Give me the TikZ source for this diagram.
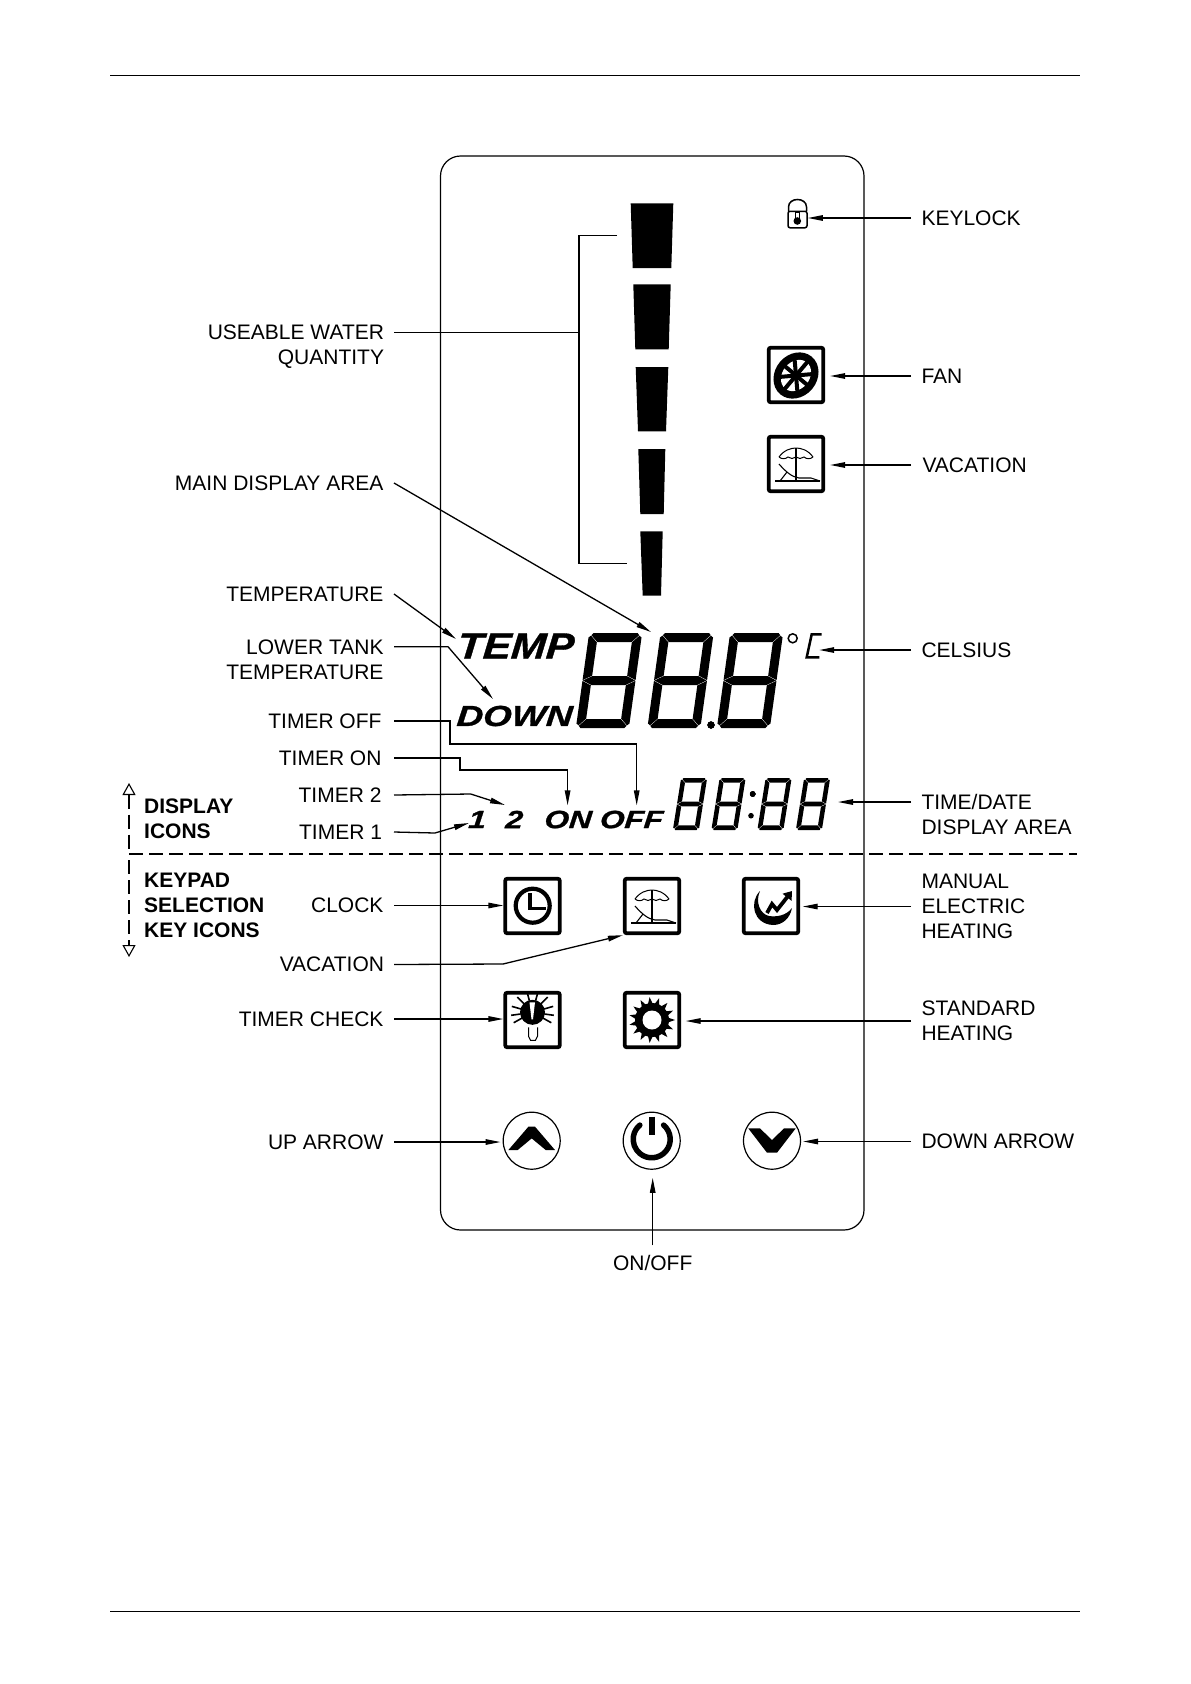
\documentclass[tikz,border=0pt]{standalone}
\usepackage{fontspec}
\setmainfont{Liberation Sans}
\newfontface\lcdfont[FakeStretch=1.15,FakeSlant=0.08,FakeBold=1]{Liberation Sans Bold Italic}
\newfontface\lcdwide[FakeStretch=1.26,FakeSlant=0.08,FakeBold=1]{Liberation Sans Bold Italic}
\usetikzlibrary{arrows.meta}

% seven-segment digit: centre x, centre y, width, height, bar, slant
\newcommand{\lcddigit}[6]{%
  \begin{scope}[shift={(#1,#2)},xslant=#6]
    \pgfmathsetmacro{\da}{#3/2}
    \pgfmathsetmacro{\db}{#4/2}
    \pgfmathsetmacro{\dt}{#5}
    \pgfmathsetmacro{\dc}{#5/2}
    \def\dg{0.4}
    \foreach \sx in {-1,1}{\foreach \sy in {-1,1}{
      \fill ({\sx*\da},{\sy*(\db-\dc)}) -- ({\sx*(\da-\dc/2)},{\sy*(\db-\dc/2-\dg)})
        -- ({\sx*(\da-\dt)},{\sy*(\db-\dt-\dg)})
        -- ({\sx*(\da-\dt)},{\sy*(\dt/2+\dg)}) -- ({\sx*\da},{\sy*\dg}) -- cycle;
    }}
    \foreach \sy in {-1,1}{
      \fill ({-\da+\dc},{\sy*\db}) -- ({\da-\dc},{\sy*\db}) -- ({\da-\dc/2-\dg},{\sy*(\db-\dc/2)})
        -- ({\da-\dt-\dg},{\sy*(\db-\dt)}) -- ({-\da+\dt+\dg},{\sy*(\db-\dt)})
        -- ({-\da+\dc/2+\dg},{\sy*(\db-\dc/2)}) -- cycle;
    }
    \fill ({-\da+\dg},0) -- ({-\da+\dt+\dg},{\dt/2}) -- ({\da-\dt-\dg},{\dt/2}) -- ({\da-\dg},0)
      -- ({\da-\dt-\dg},{-\dt/2}) -- ({-\da+\dt+\dg},{-\dt/2}) -- cycle;
  \end{scope}}

\begin{document}
\begin{tikzpicture}[x=1pt,y=-1pt,
  lbl/.style={font=\fontsize{21}{25}\selectfont,inner sep=0pt,outer xsep=10.5pt,outer ysep=0pt,align=right,anchor=east},
  rlbl/.style={lbl,align=left,anchor=west},
  hdr/.style={font=\bfseries\fontsize{21}{25}\selectfont,inner sep=0pt,align=left,anchor=west},
  lcdtxt/.style={font=\lcdfont\fontsize{#1}{#1}\selectfont,inner sep=0pt},
  lcdtxw/.style={font=\lcdwide\fontsize{#1}{#1}\selectfont,inner sep=0pt},
  keybox/.style={rectangle,draw,line width=3.8pt,rounded corners=2pt,minimum size=54.5pt,inner sep=0pt},
  keyrnd/.style={circle,draw,line width=1.2pt,minimum size=57pt,inner sep=0pt},
  fl/.style={-{Triangle[length=15pt,width=5.5pt]},line width=1.3pt},
  ln/.style={line width=1.3pt},
  sect/.style={-{Triangle[open,length=12pt,width=13pt]},line width=1.1pt,dash pattern=on 14pt off 6pt},
  vacicon/.pic={
    \draw[line width=1pt] (-17,-7) .. controls (-12,-14) and (-5,-16) .. (0,-16) .. controls (5,-16) and (12,-14) .. (17,-7);
    \draw[line width=1pt] (-17,-7) to[bend right=40] (-8,-7) to[bend right=40] (0,-7) to[bend right=40] (8,-7) to[bend right=40] (17,-7);
    \draw[line width=1.1pt] (0,-16) -- (0,17);
    \draw[line width=1.1pt] (-21,17) -- (24,17);
    \draw[line width=1.1pt] (-17,0) .. controls (-10,8) and (-4,13) .. (3,14) -- (15,14) -- (24,17);
    \draw[line width=1.1pt] (-9,8) -- (-16,17);
  }
]
\useasboundingbox (0,0) rectangle (1191,1684);
% page rules
\coordinate (rula) at (110,75);
\coordinate (rulb) at (1080,75);
\coordinate (rulc) at (110,1611);
\coordinate (ruld) at (1080,1611);
\draw[line width=1pt] (rula) -- (rulb);
\draw[line width=1pt] (rulc) -- (ruld);
% panel
\draw[line width=1.2pt,rounded corners=20pt] (440.5,156) rectangle (864,1230);
% water bars
\foreach \ya/\yb/\xa/\xb/\xc/\xd in {203.3/268/630.7/673.3/632.7/671.3,284.3/349.3/633.3/670.7/635.3/668.7,367/431.3/635.7/668.3/638/666,449/514/638.3/665.3/640.3/663.7,531.3/595.7/640.3/662.7/642.7/661}
  \fill (\xa,\ya) -- (\xb,\ya) -- (\xd,\yb) -- (\xc,\yb) -- cycle;
% big digits
\foreach \cx in {609,680.5,750} \lcddigit{\cx}{680.5}{53}{95}{9}{0.14}
\fill (711,725) circle (3.6pt);
\draw[line width=1.5pt] (792.7,638.3) circle (4.5pt);
\node[inner sep=0pt,minimum size=0pt] (celsius) at (819,650) {};
\draw[line width=2.5pt] (821.7,634.3) -- (811.7,634.3) -- (806.7,657.3) -- (819.3,657.3);
% small digits
\foreach \cx in {690,728.5,774.5,813} \lcddigit{\cx}{804}{26}{52}{4.6}{0.16}
\fill (752.7,794) circle (2.8pt);
\fill (751,815.7) circle (2.8pt);
% display words
\node[lcdtxt=36.5] (temp) at (515,646) {TEMP};
\node[lcdtxw=29] (down) at (514,716) {DOWN};
\node[lcdtxw=25] (one) at (476.7,819.5) {1};
\node[lcdtxw=25] (two) at (513.7,819.5) {2};
\node[lcdtxw=25] (ton) at (567.6,819.5) {ON};
\node[lcdtxw=25] (off) at (631,819.5) {OFF};
% keylock
\node[rectangle,draw,line width=1.5pt,rounded corners=2pt,minimum width=19pt,minimum height=16.5pt,inner sep=0pt] (lock) at (797.5,219.5) {};
\draw[line width=1.5pt] (788.5,211) -- (788.5,207) .. controls (788.5,197) and (806.5,197) .. (806.5,207) -- (806.5,211);
\fill (797.3,221) circle (3.8pt);
\draw[line width=1pt] (795.3,219) -- (795.3,212.5) -- (799.3,212.5) -- (799.3,219);
% fan and vacation display icons
\node[keybox] (fan) at (796,375) {};
\begin{scope}[shift={(796,375.5)},rotate=50]
  \fill (0,0) ellipse (24.5pt and 21pt);
  \fill[white] (0,0) ellipse (17pt and 13.5pt);
  \foreach \a in {0,45,...,315} \draw[line width=4pt] (0,0) -- (\a:{20});
\end{scope}
\node[keybox] (vaca) at (796,464) {};
\pic at (796,464) {vacicon};
% key icons
\node[keybox] (clock) at (532.5,906) {};
\draw[line width=4.2pt] (532.7,905.7) circle (17pt);
\draw[line width=3.6pt] (530,893) -- (530,908.3) -- (546,908.3);
\node[keybox] (vacb) at (652,906) {};
\pic at (652,906) {vacicon};
\node[keybox] (manual) at (771,906) {};
\begin{scope}[shift={(771,906)}]
  \fill (-11,-15) .. controls (-22,-4) and (-18,18) .. (2,19) .. controls (12,19) and (19,12) .. (21,2) .. controls (15,10) and (5,11) .. (-2,10) .. controls (-11,8) and (-16,-4) .. (-11,-15) -- cycle;
  \draw[line width=3.8pt,-{Triangle[length=8pt,width=11pt]}] (-4,7) -- (1,-2) -- (6,4) -- (21,-15);
\end{scope}
\node[keybox] (tcheck) at (532.5,1020) {};
\begin{scope}[shift={(532.5,1012.3)}]
  \fill (0,0) circle (12.5pt);
  \foreach \a in {-75,-45,-16,8,29,-105,-135,-164,172,151} \draw[line width=1.6pt] (\a:{12}) -- (\a:{21.5});
  \fill[white] (-3,-10) -- (2.5,-10) -- (0.5,7) -- (-1,7) -- cycle;
  \draw[line width=1pt,fill=white] (-4,15) -- (-4,24) -- (-2,28) -- (3,28) -- (5,24) -- (5,15);
\end{scope}
\node[keybox] (stdheat) at (652,1020) {};
\begin{scope}[shift={(652,1020)}]
  \fill (0,0) circle (17pt);
  \foreach \a in {0,24,...,336} \fill (\a-9:{16}) -- (\a:{23}) -- (\a+9:{16}) -- cycle;
  \fill[white] (0,0) circle (9.5pt);
\end{scope}
\node[keyrnd] (upkey) at (531.7,1140.7) {};
\fill[shift={(531.7,1140.7)}] (-23.3,9.3) -- (-14,9.3) -- (0,-2.3) -- (14,9.3) -- (23.3,9.3) -- (3.3,-14) -- (-3.3,-14) -- cycle;
\node[keyrnd] (power) at (651.7,1140.7) {};
\draw[line width=5.5pt,line cap=round] (663.6,1125.1) arc[start angle=50,end angle=-230,radius=18.5pt];
\draw[line width=6pt] (651.7,1116.5) -- (651.7,1135);
\node[keyrnd] (dnkey) at (772,1140.7) {};
\fill[shift={(772,1140.7)}] (-23.7,-12.3) -- (-12,-12.3) -- (0,-0.7) -- (12,-12.3) -- (23.7,-12.3) -- (5,12) -- (-5,12) -- cycle;
% section line
\coordinate (split) at (129,854);
\coordinate (splitr) at (1077,854);
\coordinate (sectlow) at (129,860);
\coordinate (sectup) at (129,783);
\coordinate (sectdn) at (129,957);
\draw[ln,dash pattern=on 14pt off 6pt] (split) -- (splitr);
\draw[line width=1.1pt,dash pattern=on 14pt off 6pt,{Triangle[open,length=12pt,width=13pt]}-] (sectup) -- (split);
\draw[sect] (sectlow) -- (sectdn);
\node[hdr] (dispicons) at (144,818.5) {DISPLAY\\ICONS};
\node[hdr] (keyicons) at (144,905) {KEYPAD\\SELECTION\\KEY ICONS};
% left labels
\node[lbl,outer xsep=10pt] (water) at (394,346.5) {USEABLE WATER\\QUANTITY};
\node[lbl] (mainarea) at (394,483) {MAIN DISPLAY AREA};
\node[lbl] (ltemp) at (394,594) {TEMPERATURE};
\node[lbl] (lower) at (394,660) {LOWER TANK\\TEMPERATURE};
\node[lbl,outer xsep=12.5pt] (tmoff) at (394,721) {TIMER OFF};
\node[lbl,outer xsep=12.5pt] (tmon) at (394,758) {TIMER ON};
\node[lbl,outer xsep=12.5pt] (tm2) at (394,795) {TIMER 2};
\node[lbl,outer xsep=12pt] (tm1) at (394,832) {TIMER 1};
\node[lbl] (lclock) at (394,905.5) {CLOCK};
\node[lbl,outer xsep=10pt] (lvac) at (394,964.5) {VACATION};
\node[lbl] (ltc) at (394,1019) {TIMER CHECK};
\node[lbl] (lup) at (394,1142) {UP ARROW};
% right labels
\node[rlbl] (lkey) at (911,218) {KEYLOCK};
\node[rlbl] (lfan) at (911,376) {FAN};
\node[rlbl,outer xsep=11.5pt] (lvacd) at (911,465) {VACATION};
\node[rlbl] (lcel) at (911,650) {CELSIUS};
\node[rlbl] (ltime) at (911,814.5) {TIME/DATE\\DISPLAY AREA};
\node[rlbl] (lman) at (911,906.5) {MANUAL\\ELECTRIC\\HEATING};
\node[rlbl] (lstd) at (911,1021) {STANDARD\\HEATING};
\node[rlbl] (ldn) at (911,1141.5) {DOWN ARROW};
\node[inner sep=0pt,font=\fontsize{21}{25}\selectfont,outer ysep=10pt] (lonoff) at (652.7,1263) {ON/OFF};
% leaders
\coordinate (wtop) at (617,235.3);
\coordinate (wbot) at (626.7,563.3);
\draw[ln] (wtop) -- (579,235.3) -- (579,563.3) -- (wbot);
\draw[ln] ([yshift=13.8pt]water.east) -- (579,332.7);
\coordinate (dispin) at (651,632);
\draw[fl] (mainarea.east) -- (dispin);
\coordinate (tempin) at (456,639);
\draw[fl] (ltemp.east) -- (tempin);
\coordinate (downin) at (493,699);
\draw[fl] ([yshift=13.3pt]lower.east) -- (448,646.7) -- (downin);
\draw[fl,shorten >=5pt] (tmoff.east) -| (450,744) -| ([xshift=5.7pt]off.north);
\draw[fl,shorten >=5pt] (tmon.east) -| (460,770) -| (ton.north);
\coordinate (twoin) at (505,805);
\draw[fl] (tm2.east) -- (470.7,794) -- (twoin);
\coordinate (onein) at (469,823);
\draw[fl] (tm1.east) -- (435,833) -- (onein);
\draw[fl] (lclock.east) -- (lclock.east -| clock.west);
\draw[fl] (lvac.east) -- (503,964) -- (vacb.south west);
\draw[fl] (ltc.east) -- (ltc.east -| tcheck.west);
\draw[fl,shorten >=2pt] (lup.east) -- (lup.east -| upkey.west);
\draw[fl] (lkey.west) -- (lkey.west -| lock.east);
\draw[fl,shorten >=5pt] (lfan.west) -- (lfan.west -| fan.east);
\draw[fl,shorten >=5pt] (lvacd.west) -- (lvacd.west -| vaca.east);
\draw[fl] (lcel.west) -- (celsius);
\coordinate (timein) at (838,802);
\draw[fl] ([yshift=12.5pt]ltime.west) -- (timein);
\draw[fl,shorten >=2.5pt] (lman.west) -- (lman.west -| manual.east);
\draw[fl,shorten >=4.5pt] (lstd.west) -- (lstd.west -| stdheat.east);
\draw[fl,shorten >=2pt] (ldn.west) -- (ldn.west -| dnkey.east);
\draw[fl,shorten >=8pt] (lonoff.north) -- (lonoff.north |- power.south);
\end{tikzpicture}
\end{document}
